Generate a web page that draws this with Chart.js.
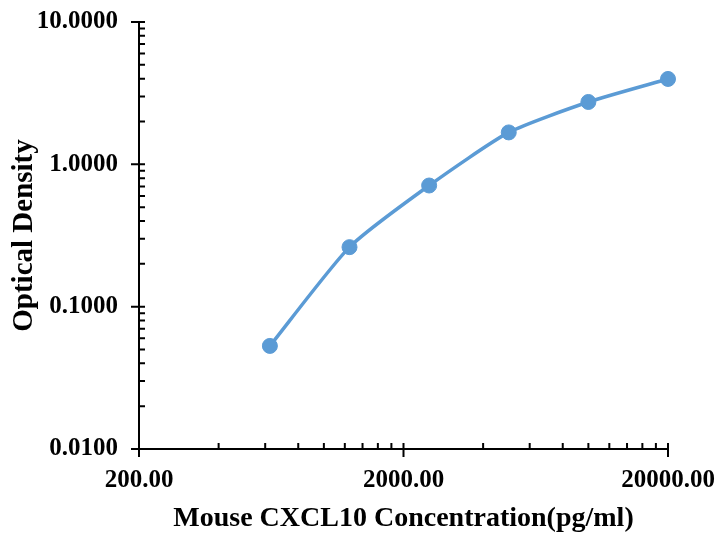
<!DOCTYPE html>
<html>
<head>
<meta charset="utf-8">
<script src="https://cdn.jsdelivr.net/npm/chart.js@4/dist/chart.umd.min.js"></script>
<style>
  html, body { margin: 0; padding: 0; background: #fff; }
  #wrap { width: 715px; height: 533px; }
</style>
</head>
<body>
<div id="wrap"><canvas id="odChart" width="715" height="533"></canvas></div>
<script>
// standard curve data
const concentrations = [625, 1250, 2500, 5000, 10000, 20000];
const opticalDensity = [0.053, 0.262, 0.71, 1.676, 2.742, 3.98];
const xTickValues = [200, 2000, 20000];
const yTickValues = [0.01, 0.1, 1, 10];

const SERIF = "'Liberation Serif', 'Times New Roman', serif";
const TICK_FONT = { family: SERIF, weight: "bold", size: 25 };

// minor ticks: k * 10^n between the majors
function minorValues(majors) {
  const out = [];
  for (let i = 0; i < majors.length - 1; i++) {
    for (let k = 2; k <= 9; k++) out.push(majors[i] * k);
  }
  return out;
}

const tickMarks = {
  id: "tickMarks",
  afterDraw(chart) {
    const ctx = chart.ctx;
    const xs = chart.scales.x, ys = chart.scales.y;
    const axisX = chart.chartArea.left, axisY = chart.chartArea.bottom;
    ctx.save();
    ctx.strokeStyle = "#000";
    ctx.lineWidth = 2;
    ctx.beginPath();
    xTickValues.forEach(v => {
      const p = xs.getPixelForValue(v);
      ctx.moveTo(p, axisY - 6); ctx.lineTo(p, axisY + 8);
    });
    minorValues(xTickValues).forEach(v => {
      const p = xs.getPixelForValue(v);
      ctx.moveTo(p, axisY - 6); ctx.lineTo(p, axisY);
    });
    yTickValues.forEach(v => {
      const p = ys.getPixelForValue(v);
      ctx.moveTo(axisX - 8, p); ctx.lineTo(axisX + 6, p);
    });
    minorValues(yTickValues).forEach(v => {
      const p = ys.getPixelForValue(v);
      ctx.moveTo(axisX, p); ctx.lineTo(axisX + 6, p);
    });
    ctx.stroke();
    ctx.restore();
  }
};

new Chart(document.getElementById("odChart"), {
  type: "line",
  data: {
    datasets: [{
      data: concentrations.map((c, i) => ({ x: c, y: opticalDensity[i] })),
      borderColor: "#5B9BD5",
      backgroundColor: "#5B9BD5",
      borderWidth: 3.5,
      pointRadius: 7.5,
      pointBorderWidth: 1,
      tension: 0.2,
      fill: false,
      clip: false,
    }],
  },
  options: {
    responsive: false,
    animation: false,
    devicePixelRatio: 1,
    layout: { padding: { top: 22, right: 47, left: 0, bottom: 0 } },
    plugins: { legend: { display: false }, tooltip: { enabled: false } },
    scales: {
      x: {
        type: "logarithmic",
        min: 200,
        max: 20000,
        afterBuildTicks: (s) => { s.ticks = xTickValues.map(v => ({ value: v })); },
        afterFit: (s) => { s.height = 84; s.paddingLeft = 0; s.paddingRight = 0; },
        grid: { display: false, drawTicks: false },
        border: { display: true, color: "#000", width: 2 },
        ticks: {
          color: "#000",
          font: TICK_FONT,
          padding: 17,
          maxRotation: 0,
          autoSkip: false,
          callback: (v) => Number(v).toFixed(2),
        },
        title: {
          display: true,
          text: "Mouse CXCL10 Concentration(pg/ml)",
          color: "#000",
          font: { family: SERIF, weight: "bold", size: 28, lineHeight: 1 },
          padding: { top: 0, bottom: 0 },
        },
      },
      y: {
        type: "logarithmic",
        min: 0.01,
        max: 10,
        afterBuildTicks: (s) => { s.ticks = yTickValues.map(v => ({ value: v })); },
        afterFit: (s) => { s.width = 139; s.paddingTop = 0; s.paddingBottom = 0; },
        grid: { display: false, drawTicks: false },
        border: { display: true, color: "#000", width: 2 },
        ticks: {
          color: "#000",
          font: TICK_FONT,
          padding: 21,
          autoSkip: false,
          callback: (v) => Number(v).toFixed(4),
        },
        title: {
          display: true,
          text: "Optical Density",
          color: "#000",
          font: { family: SERIF, weight: "bold", size: 29, lineHeight: 1 },
          padding: { top: 10, bottom: 0 },
        },
      },
    },
  },
  plugins: [tickMarks],
});
</script>
</body>
</html>
